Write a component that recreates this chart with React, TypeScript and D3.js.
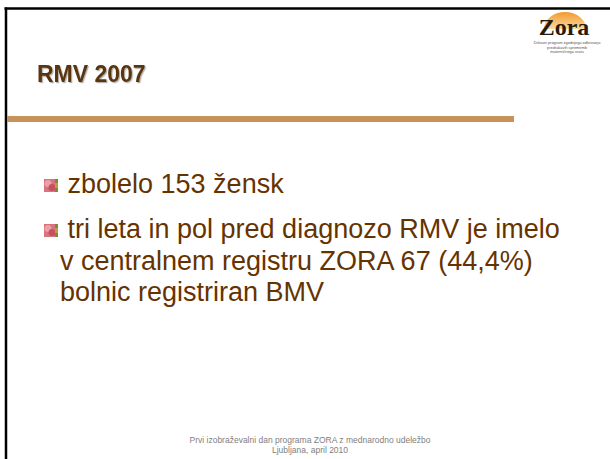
import React from 'react';
import * as d3 from 'd3';

const W = 610;
const H = 459;

// slide texts
const title = 'RMV 2007';
const bullets = [
  ['zbolelo 153 žensk'],
  ['tri leta in pol pred diagnozo RMV je imelo', 'v centralnem registru ZORA 67 (44,4%)', 'bolnic registriran BMV'],
];
const footerLines = ['Prvi izobraževalni dan programa ZORA z mednarodno udeležbo', 'Ljubljana, april 2010'];
const logoName = 'Zora';
const logoLines = ['Državni program zgodnjega odkrivanja', 'predrakavih sprememb', 'materničnega vratu'];

const font = 'Liberation Sans, Arial, sans-serif';
const brown = '#663300';

const App = () => {
  // vertical layout of body lines: bullet index + line index
  const firstBase = 193;
  const bulletGap = d3.scaleLinear().domain([0, 1]).range([0, 45]);
  const lineGap = d3.scaleLinear().domain([0, 1]).range([0, 31.5]);

  const rows: { text: string; y: number; first: boolean }[] = [];
  let y = firstBase;
  bullets.forEach((b, bi) => {
    if (bi > 0) y += bulletGap(1);
    b.forEach((t, li) => {
      if (li > 0) y += lineGap(1);
      rows.push({ text: t, y, first: li === 0 });
    });
  });

  const footerY = d3.scaleLinear().domain([0, 1]).range([442.5, 453]);
  const logoY = d3.scaleLinear().domain([0, 1]).range([44, 48.5]);

  return (
    <svg width={W} height={H} style={{ position: 'absolute', left: 0, top: 0, background: '#fff' }}>
      <defs>
        <linearGradient id="sun" x1="0" y1="0" x2="0" y2="1">
          <stop offset="0" stopColor="#f29a2e" />
          <stop offset="1" stopColor="#fbd9a0" />
        </linearGradient>
        <filter id="shadow" x="-5%" y="-20%" width="115%" height="150%">
          <feDropShadow dx={1.2} dy={1.2} stdDeviation={0.6} floodColor="#000" floodOpacity={0.3} />
        </filter>
      </defs>
      <rect width={W} height={H} fill="#fff" />
      {/* frame */}
      <line x1={4.5} x2={W} y1={8.5} y2={8.5} stroke="#000" strokeWidth={2.5} />
      <line x1={6} x2={6} y1={7.5} y2={H} stroke="#000" strokeWidth={2.5} />

      {/* logo */}
      <path d="M544,29 A21,17 0 0 1 586,29 Z" fill="url(#sun)" />
      <text x={564} y={35} textAnchor="middle" fontFamily="Liberation Serif, Times New Roman, serif"
        fontWeight="bold" fontSize={24} fill="#2a1a0a">{logoName}</text>
      {logoLines.map((t, i) => (
        <text key={i} x={567} y={logoY(i)} textAnchor="middle" fontFamily={font} fontSize={3.9} fill="#555">{t}</text>
      ))}

      {/* title */}
      <text x={37} y={82} fontFamily={font} fontWeight="bold" fontSize={23} fill="#5a3510" filter="url(#shadow)">{title}</text>
      <rect x={7} y={116} width={507} height={6} fill="#c8935a" />

      {/* bullets */}
      {rows.map((r, i) => (
        <g key={i}>
          {r.first && (
            <g transform={`translate(44,${r.y - 14})`}>
              <rect width={14} height={13} fill="#d9737d" />
              <circle cx={4} cy={4.5} r={3.5} fill="#eaa0a6" />
              <circle cx={8} cy={8.5} r={3.5} fill="#c8505e" />
              <rect x={11} width={3} height={13} fill="#7a8a3a" />
              <rect x={11} y={4} width={3} height={5} fill="#b8a040" />
            </g>
          )}
          <text x={60} y={r.y} fontFamily={font} fontSize={27} fill={brown}>
            {r.first ? '\u00a0' + r.text : r.text}
          </text>
        </g>
      ))}

      {/* footer */}
      {footerLines.map((t, i) => (
        <text key={i} x={310} y={footerY(i)} textAnchor="middle" fontFamily={font} fontSize={8.5} fill="#808080">{t}</text>
      ))}
    </svg>
  );
};

export default App;
